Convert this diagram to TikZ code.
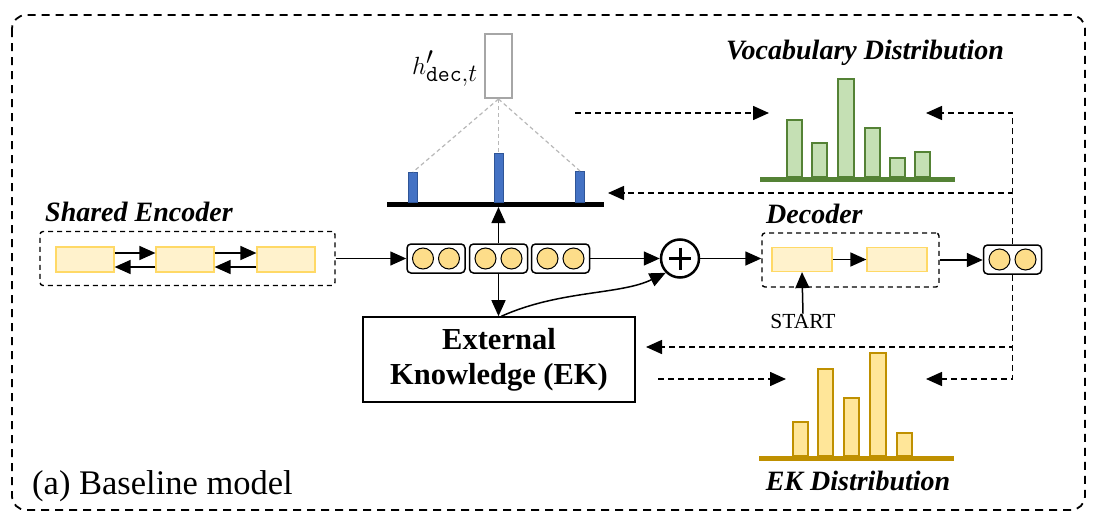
\documentclass[tikz,border=0pt]{standalone}
\usepackage{fontspec}
\setmainfont{Liberation Serif}
\usetikzlibrary{arrows.meta,calc}

\definecolor{cellfill}{HTML}{FFF2CC}
\definecolor{celldraw}{HTML}{FFD966}
\definecolor{dotfill}{HTML}{FDDD8A}
\definecolor{vgreen}{HTML}{548235}
\definecolor{vgreenfill}{HTML}{C5E0B4}
\definecolor{ekgold}{HTML}{BF9000}
\definecolor{ekgoldfill}{HTML}{FFE699}
\definecolor{attnblue}{HTML}{2F5597}
\definecolor{attnfill}{HTML}{4472C4}
\definecolor{hgray}{HTML}{A6A6A6}

\tikzset{
  frame/.style={draw, line width=1.8pt, dash pattern=on 8pt off 6pt, rounded corners=14pt},
  grp/.style={draw, line width=1.4pt, dash pattern=on 5pt off 4pt, rounded corners=3pt, inner sep=0pt},
  cell/.style={draw=celldraw, fill=cellfill, line width=1.2pt, minimum width=58pt, minimum height=25pt, inner sep=0pt},
  pairbox/.style={draw, fill=white, rounded corners=4pt, line width=1.5pt, minimum width=58pt, minimum height=29pt, inner sep=0pt},
  dotc/.style={circle, draw, fill=dotfill, line width=1pt, minimum size=21pt, inner sep=0pt},
  arr/.style={-{Triangle[length=16pt,width=14pt]}, line width=1.5pt},
  darr/.style={arr, dash pattern=on 6pt off 4pt},
  gdash/.style={draw=hgray!80, line width=1.2pt, dash pattern=on 4pt off 3pt},
  lbl/.style={font=\fontsize{28}{32}\selectfont\bfseries\itshape, inner sep=0pt},
  vbar/.style={draw=vgreen, fill=vgreenfill, line width=2.4pt},
  ekbar/.style={draw=ekgold, fill=ekgoldfill, line width=2.4pt},
  abar/.style={draw=attnblue, fill=attnfill, line width=0.9pt},
}

\begin{document}
\begin{tikzpicture}[x=1pt, y=-1pt]
\useasboundingbox (0,0) rectangle (1096,514);

% outer frame
\draw[frame] (12,15) rectangle (1085,510);
\node[anchor=base west, font=\fontsize{34.5}{38}\selectfont, inner sep=0pt] (cap) at (32,494) {(a) Baseline model};

% shared encoder
\node[lbl, anchor=base west] (enclbl) at (45,221) {Shared Encoder};
\node[grp, minimum width=295pt, minimum height=54pt] (enc) at (187.5,258.5) {};
\node[cell] (e1) at (85,259.5) {};
\node[cell] (e2) at (185,259.5) {};
\node[cell] (e3) at (286,259.5) {};
\draw[arr] ($(e1.east)+(0,-6.5)$) -- ($(e2.west)+(0,-6.5)$);
\draw[arr] ($(e2.west)+(0,7.5)$) -- ($(e1.east)+(0,7.5)$);
\draw[arr] ($(e2.east)+(0,-6.5)$) -- ($(e3.west)+(0,-6.5)$);
\draw[arr] ($(e3.west)+(0,7.5)$) -- ($(e2.east)+(0,7.5)$);

% encoder states
\node[pairbox] (c1) at (436,258.5) {};
\node[pairbox] (c2) at (498.5,258.5) {};
\node[pairbox] (c3) at (560.5,258.5) {};
\foreach \c in {c1,c2,c3}{
  \node[dotc] (\c a) at ($(\c)+(-13,0)$) {};
  \node[dotc] (\c b) at ($(\c)+(13,0)$) {};
}
\draw[arr] (enc.east) -- (enc.east -| c1.west);

% combination
\node[circle, draw, line width=2.5pt, minimum size=38pt, inner sep=0pt] (op) at (680,258.5) {};
\draw[line width=3pt] ($(op.center)+(-11,0)$) -- ($(op.center)+(11,0)$);
\draw[line width=3pt] ($(op.center)+(0,-11)$) -- ($(op.center)+(0,11)$);
\draw[arr] (c3.east) -- (op.west);

% external knowledge
\node[draw, line width=1.6pt, minimum width=272pt, minimum height=85pt, align=center,
      font=\fontsize{30.5}{35}\selectfont\bfseries] (ek) at (499,359.5) {External\\Knowledge (EK)};
\draw[arr] (c2.south) -- (c2.south |- ek.north);
\draw[arr] ($(c2.south |- ek.north)+(3,0)$) .. controls (560,290) and (620,295) .. (op.south west);

% attention
\node[draw=hgray, line width=2pt, minimum width=27pt, minimum height=64pt, inner sep=0pt] (h) at (498.5,66) {};
\node[anchor=base east, font=\fontsize{33}{36}\selectfont, inner sep=0pt] (hlbl) at (478,74) {$h'_{\mathtt{dec},t}$};
\coordinate (abase) at (498.5,204);
\draw[line width=5pt] (387,204) -- (604,204);
\draw[abar] (408.5,172) rectangle (417.5,202);
\draw[abar] (494,153) rectangle (503,202);
\draw[abar] (575.5,171) rectangle (584.5,202);
\draw[gdash] (h.south) -- (413,172);
\draw[gdash] (h.south) -- (498.5,153);
\draw[gdash] (h.south) -- (580,171);
\draw[arr] (c2.north) -- ($(abase)+(0,3)$);

% decoder
\node[lbl, anchor=base west] (declbl) at (766,223) {Decoder};
\node[grp, minimum width=177pt, minimum height=54pt] (dec) at (850.5,260) {};
\node[cell, minimum width=60pt, minimum height=24pt] (d1) at (802,259.5) {};
\node[cell, minimum width=60pt, minimum height=24pt] (d2) at (897,259.5) {};
\draw[arr] (d1.east) -- (d2.west);
\node[font=\fontsize{21.5}{24}\selectfont, inner sep=0pt] (start) at (803,321) {START};
\draw[arr] (start.north) -- (d1.south);
\draw[arr] (op.east) -- (op.east -| dec.west);
\node[pairbox] (co) at (1012.5,259.5) {};
\node[dotc] (coa) at ($(co)+(-13,0)$) {};
\node[dotc] (cob) at ($(co)+(13,0)$) {};
\draw[arr] (dec.east) -- (dec.east -| co.west);

% vocabulary distribution
\node[lbl, anchor=base] (vlbl) at (865,59) {Vocabulary Distribution};
\draw[vbar] (787,120) rectangle (802,177);
\draw[vbar] (812,143) rectangle (827,177);
\draw[vbar] (838,79) rectangle (854,177);
\draw[vbar] (865,128) rectangle (880,177);
\draw[vbar] (890,158) rectangle (905,177);
\draw[vbar] (915,152) rectangle (930,177);
\draw[vgreen, line width=5pt] (760,179) -- (955,179);

% EK distribution
\node[lbl, anchor=base] (ekl) at (858,490) {EK Distribution};
\draw[ekbar] (793,422) rectangle (808,456);
\draw[ekbar] (818,369) rectangle (833,456);
\draw[ekbar] (844,398) rectangle (859,456);
\draw[ekbar] (870,353) rectangle (886,456);
\draw[ekbar] (897,433) rectangle (912,456);
\draw[ekgold, line width=5pt] (759,458) -- (954,458);

% copy/generate flow (dashed)
\coordinate (vin) at (769,113);
\coordinate (vout) at (575,113);
\coordinate (vtip) at (926,113);
\coordinate (atip) at (608,193);
\coordinate (ektip) at (646,347);
\coordinate (edtip) at (926,379);
\coordinate (ekout) at (658,379);
\coordinate (edin) at (786,379);
\draw[darr] (vout) -- (vin);
\draw[darr] (co.north) |- (vtip);
\draw[darr] (co.north) |- (atip);
\draw[darr] (co.south) |- (ektip);
\draw[darr] (co.south) |- (edtip);
\draw[darr] (ekout) -- (edin);
\end{tikzpicture}
\end{document}
